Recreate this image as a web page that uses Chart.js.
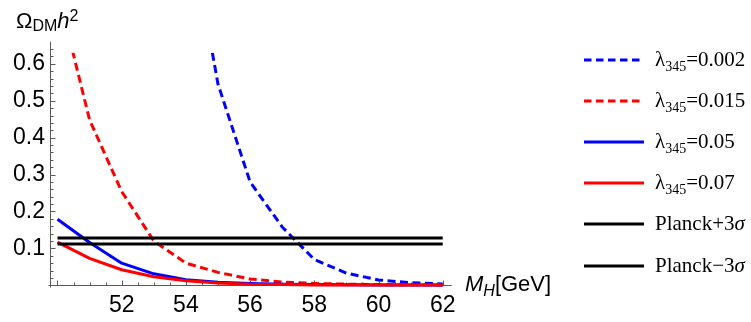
<!DOCTYPE html>
<html>
<head>
<meta charset="utf-8">
<title>Relic density vs M_H</title>
<script src="https://cdn.jsdelivr.net/npm/chart.js@4.4.1/dist/chart.umd.min.js"></script>
<style>
  body { margin: 0; background: #fff; }
  #wrap { position: relative; width: 751px; height: 322px; overflow: hidden; }
  #chart { position: absolute; left: 0; top: 0; }
  .axis-label { position: absolute; font-family: 'Liberation Sans', Arial, sans-serif; font-size: 22px; line-height: 22px; color: #000; white-space: nowrap; }
  .axis-label sub, .axis-label sup { font-size: 16px; line-height: 0; position: relative; vertical-align: baseline; }
  .axis-label sub { top: 3px; }
  .axis-label sup { top: -7px; }
  #ylab { left: 16px; top: 10px; }
  #xlab { left: 465px; top: 273px; }
  #xlab sub { top: 5px; font-style: italic; }
  .leg-row { position: absolute; left: 584px; height: 22px; width: 170px; }
  .leg-row svg { position: absolute; left: 0; top: 0; }
  .leg-text { position: absolute; left: 71px; top: 0; font-family: 'Liberation Serif', 'Times New Roman', serif; font-size: 21px; line-height: 21px; color: #000; white-space: nowrap; }
  .leg-text sub { font-size: 14px; line-height: 0; position: relative; vertical-align: baseline; top: 5px; }
</style>
</head>
<body>
<div id="wrap">
  <canvas id="chart" width="751" height="322"></canvas>
  <div class="axis-label" id="ylab">&Omega;<sub>DM</sub><i>h</i><sup>2</sup></div>
  <div class="axis-label" id="xlab"><i>M</i><sub>H</sub>[GeV]</div>
  <div id="legend"></div>
</div>
<script>
// ── Data ──────────────────────────────────────────
const MASS = [50, 51, 52, 53, 54, 55, 56, 57, 58, 59, 60, 61, 62];

// relic density for each lambda_345 (null = no point)
const OMEGA_L0002 = [null, null, null, null, 1.03, 0.545, 0.28, 0.158, 0.07, 0.033, 0.0145, 0.007, 0.0035];
const OMEGA_L0015 = [0.80, 0.448, 0.254, 0.12, 0.06, 0.035, 0.017, 0.009, 0.005, 0.003, 0.002, 0.0015, 0.001];
const OMEGA_L005  = [0.179, 0.116, 0.06, 0.031, 0.015, 0.008, 0.005, 0.003, 0.002, 0.0015, 0.001, 0.001, 0.001];
const OMEGA_L007  = [0.117, 0.073, 0.042, 0.023, 0.012, 0.006, 0.003, 0.002, 0.001, 0.001, 0.001, 0.0005, 0.0005];

// Planck band edges (0.1199 +/- 3 sigma)
const PLANCK_UP = 0.128;
const PLANCK_LOW = 0.112;
const PLANCK_MASS = [50, 62];

const X_TICKS = [52, 54, 56, 58, 60, 62];
const Y_TICKS = [0.1, 0.2, 0.3, 0.4, 0.5, 0.6];

const X_MIN = 49.72, X_MAX = 62.28;
const Y_MIN = -0.006, Y_MAX = 0.66;
const PLOT_TOP = 0.63;        // curves are cut here, axes run a bit further
const AXIS_ORIGIN_X = 49.77;

const BLUE = '#0000ff';
const RED = '#ff0000';
const AXIS_COLOR = '#5a5a5a';
const DASH = [8, 4.5];

function points(xs, ys) {
  return xs.map((m, i) => ({ x: m, y: ys[i] })).filter(p => p.y !== null);
}

const LEGEND_LABELS = [
  'λ<sub>345</sub>=0.002',
  'λ<sub>345</sub>=0.015',
  'λ<sub>345</sub>=0.05',
  'λ<sub>345</sub>=0.07',
  'Planck+3<i>σ</i>',
  'Planck−3<i>σ</i>'
];

// ── Mathematica-style axes + plot range clip ──────
const mmaAxes = {
  id: 'mmaAxes',
  beforeDatasetsDraw(chart) {
    const { ctx, chartArea, scales: { x, y } } = chart;
    const x0 = Math.round(x.getPixelForValue(AXIS_ORIGIN_X)) + 0.5;
    const y0 = Math.round(y.getPixelForValue(0)) + 0.5;

    ctx.save();
    ctx.strokeStyle = AXIS_COLOR;
    ctx.lineWidth = 1;
    ctx.beginPath();
    ctx.moveTo(chartArea.left, y0);
    ctx.lineTo(chartArea.right, y0);
    ctx.moveTo(x0, chartArea.top);
    ctx.lineTo(x0, chartArea.bottom);

    // x ticks every 0.5 GeV, pointing up
    for (let i = 0; i <= 24; i++) {
      const m = 50 + i * 0.5;
      const px = Math.round(x.getPixelForValue(m)) + 0.5;
      const len = (i % 4 === 0) ? 5 : 3;
      ctx.moveTo(px, y0);
      ctx.lineTo(px, y0 - len);
    }
    // y ticks every 0.02, pointing right
    for (let j = 0; j <= 32; j++) {
      const v = j * 0.02;
      const py = Math.round(y.getPixelForValue(v)) + 0.5;
      const len = (j % 5 === 0) ? 5 : 3;
      ctx.moveTo(x0, py);
      ctx.lineTo(x0 + len, py);
    }
    ctx.stroke();
    ctx.restore();

    // clip the curves to the plot range
    const top = y.getPixelForValue(PLOT_TOP);
    ctx.save();
    ctx.beginPath();
    ctx.rect(chartArea.left, top, chartArea.right - chartArea.left, chartArea.bottom - top);
    ctx.clip();
  },
  afterDatasetsDraw(chart) {
    chart.ctx.restore();
  }
};

// ── Chart ─────────────────────────────────────────
function line(label, data, color, dashed, order) {
  return {
    label: label,
    data: data,
    borderColor: color,
    backgroundColor: color,
    borderWidth: 3,
    borderDash: dashed ? DASH : [],
    borderJoinStyle: 'round',
    pointRadius: 0,
    fill: false,
    order: order
  };
}

const datasets = [
  line('λ345=0.002', points(MASS, OMEGA_L0002), BLUE, true, 4),
  line('λ345=0.015', points(MASS, OMEGA_L0015), RED, true, 3),
  line('λ345=0.05', points(MASS, OMEGA_L005), BLUE, false, 2),
  line('λ345=0.07', points(MASS, OMEGA_L007), RED, false, 1),
  line('Planck+3σ', points(PLANCK_MASS, [PLANCK_UP, PLANCK_UP]), '#000', false, 0),
  line('Planck−3σ', points(PLANCK_MASS, [PLANCK_LOW, PLANCK_LOW]), '#000', false, 0)
];

const tickFont = { family: "'Liberation Sans', Arial, sans-serif", size: 23 };

const chart = new Chart(document.getElementById('chart'), {
  type: 'line',
  data: { datasets: datasets },
  options: {
    responsive: false,
    animation: false,
    devicePixelRatio: 1,
    layout: { padding: { left: 0, top: 41.7, right: 299.3, bottom: 0 } },
    plugins: { legend: { display: false }, tooltip: { enabled: false } },
    scales: {
      x: {
        type: 'linear',
        min: X_MIN,
        max: X_MAX,
        grid: { display: false, drawTicks: false },
        border: { display: false },
        afterBuildTicks: s => { s.ticks = X_TICKS.map(v => ({ value: v })); },
        afterFit: s => { s.height = 34.5; },
        ticks: { font: tickFont, color: '#000', padding: 4, maxRotation: 0, autoSkip: false }
      },
      y: {
        type: 'linear',
        min: Y_MIN,
        max: Y_MAX,
        grid: { display: false, drawTicks: false },
        border: { display: false },
        afterBuildTicks: s => { s.ticks = Y_TICKS.map(v => ({ value: v })); },
        afterFit: s => { s.width = 48.5; },
        ticks: { font: tickFont, color: '#000', padding: 3.5, callback: v => v.toFixed(1) }
      }
    }
  },
  plugins: [mmaAxes]
});

// ── Legend ────────────────────────────────────────
function buildLegend(chart) {
  const box = document.getElementById('legend');
  chart.data.datasets.forEach((ds, i) => {
    const yc = 59.5 + i * 41.2;
    const row = document.createElement('div');
    row.className = 'leg-row';
    row.style.top = (yc - 11) + 'px';
    const dash = ds.borderDash.length ? ` stroke-dasharray="7.5 4.5"` : '';
    row.innerHTML = `
      <svg width="60" height="22"><line x1="0" y1="11" x2="60" y2="11" stroke="${ds.borderColor}" stroke-width="3"${dash}/></svg>
      <span class="leg-text">${LEGEND_LABELS[i]}</span>`;
    box.appendChild(row);
  });
}

buildLegend(chart);
</script>
</body>
</html>
